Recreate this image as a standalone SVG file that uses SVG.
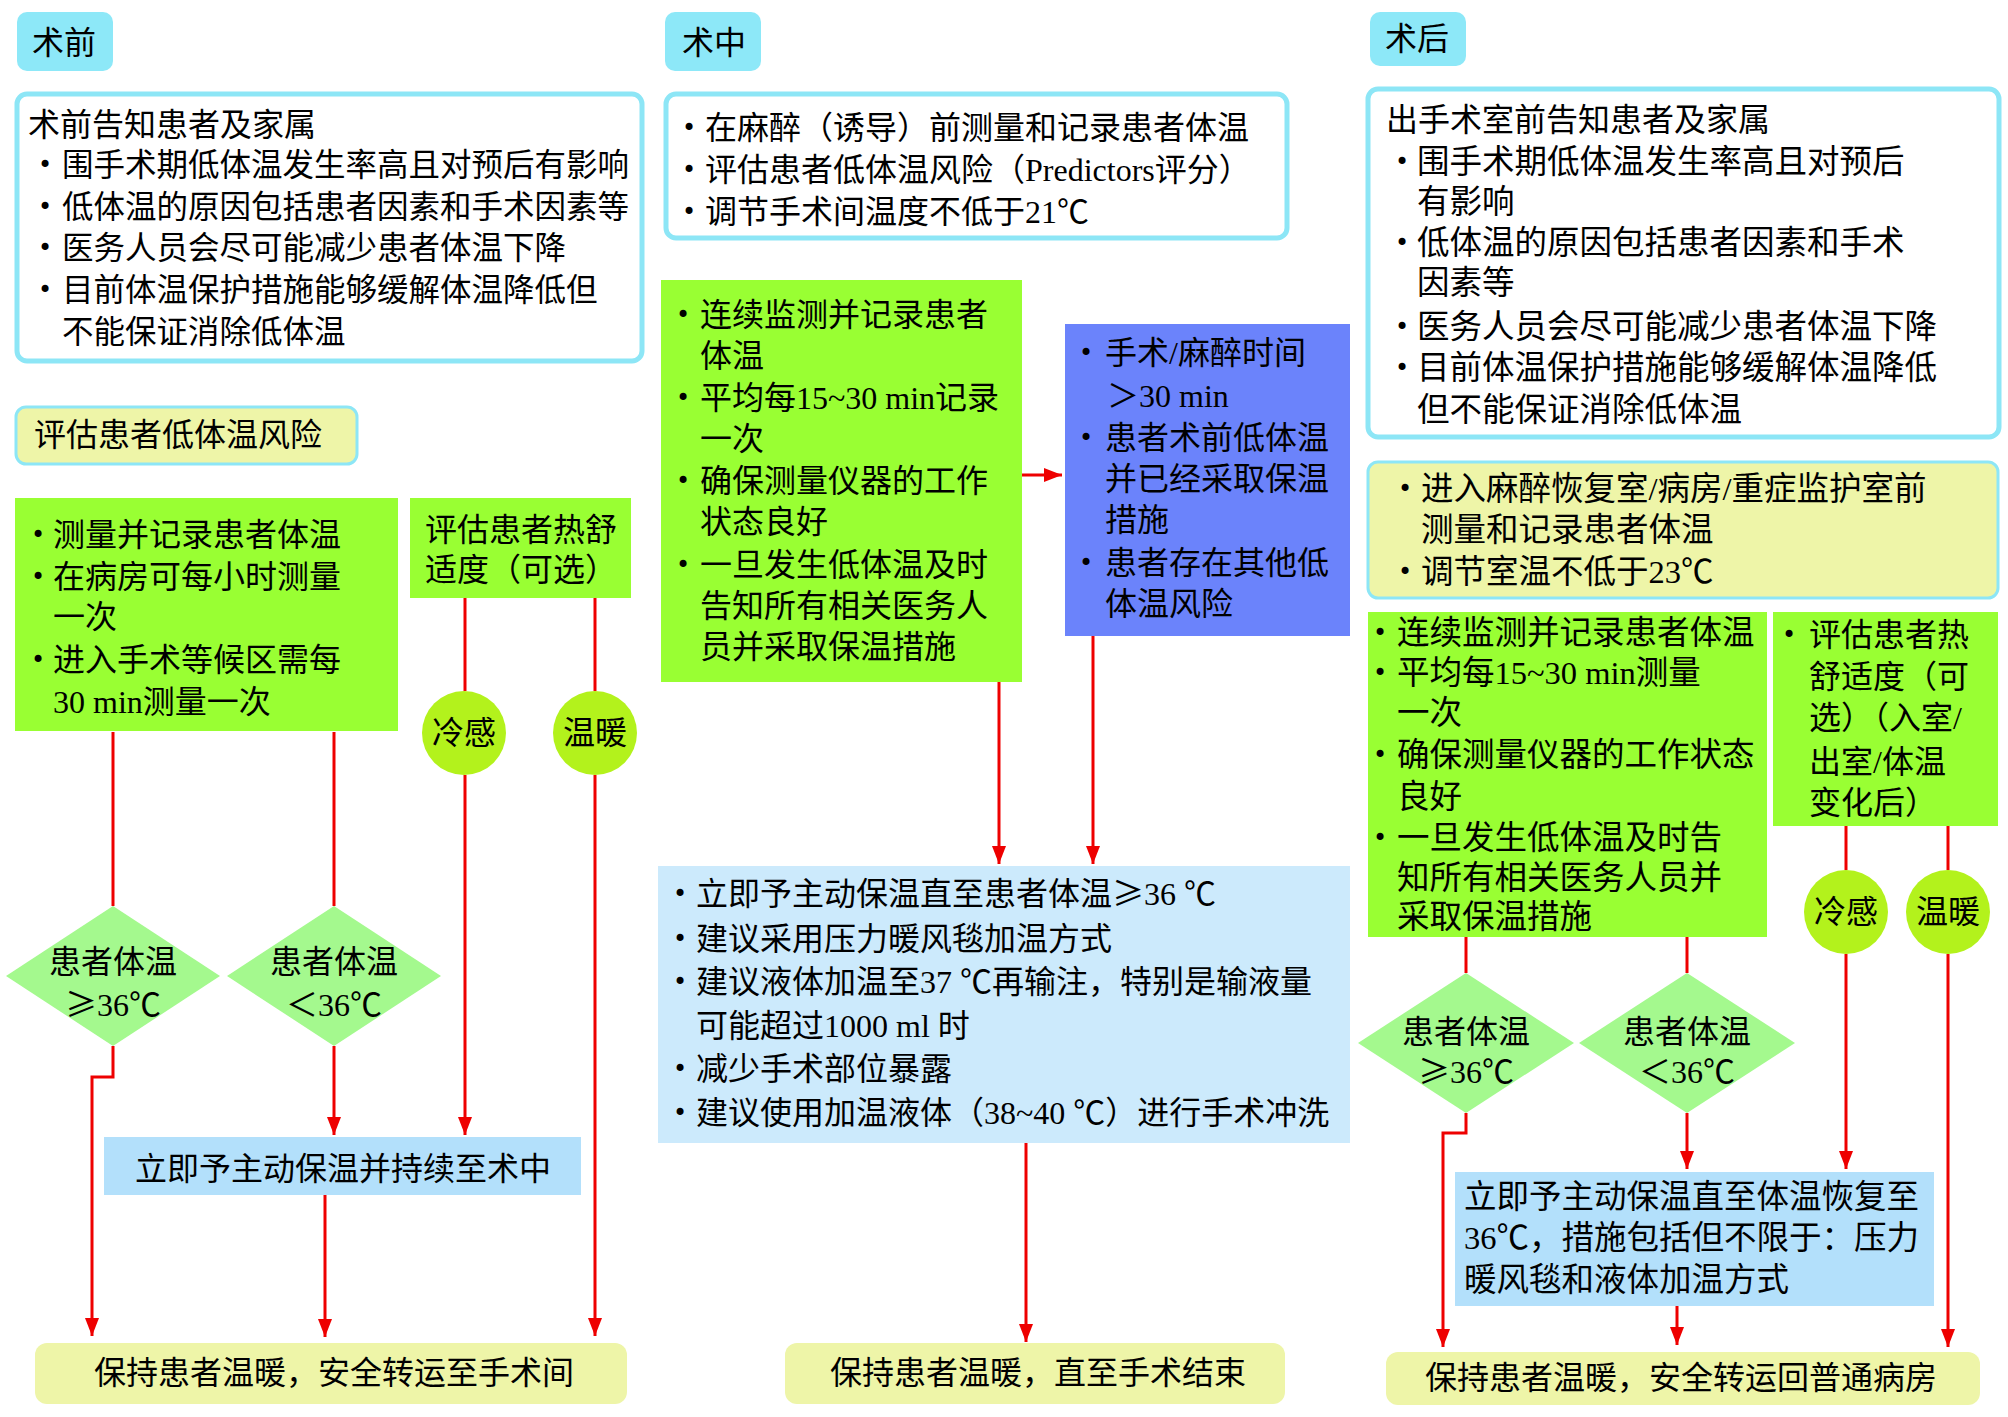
<svg xmlns="http://www.w3.org/2000/svg" width="2008" height="1417" viewBox="0 0 2008 1417">
<defs>
<style>
.t{font-family:"Liberation Serif","Noto Sans CJK SC",serif;font-size:32px;fill:#000}
.c{text-anchor:middle}
.g{font-family:"Noto Sans CJK SC",sans-serif}
.b{font-family:"DejaVu Sans",sans-serif;font-size:24px;fill:#000}
.lab{fill:#8de8f8}
.info{fill:#fff;stroke:#8de6f6;stroke-width:5}
.yel{fill:#eef5a8}
.yels{fill:#eef5a8;stroke:#8de6f6;stroke-width:3}
.grn{fill:#99ff33}
.dia{fill:#a4f98e}
.ell{fill:#b3f21c}
.blu{fill:#b3e0fb}
.lblu{fill:#cceafc}
.per{fill:#6b83fb}
.ln{fill:none;stroke:#ee0000;stroke-width:3}
</style>
<marker id="ah" markerUnits="userSpaceOnUse" markerWidth="18" markerHeight="14" refX="18" refY="7" orient="auto">
<path d="M0,0 L18,7 L0,14 z" fill="#ee0000"/>
</marker>
</defs>
<rect width="2008" height="1417" fill="#fff"/>

<!-- ===== Column 1: 术前 ===== -->
<g id="pre-label"><rect class="lab" x="17" y="12" width="96" height="59" rx="10"/><text class="t" x="32" y="54">术前</text></g>
<g id="pre-info">
<rect class="info" x="17" y="94" width="625" height="267" rx="10"/>
<text class="t" x="28" y="136">术前告知患者及家属</text>
<text class="b" x="38" y="173">•</text><text class="t" x="62" y="176" style="font-size:31.5px">围手术期低体温发生率高且对预后有影响</text>
<text class="b" x="38" y="215">•</text><text class="t" x="62" y="218" style="font-size:31.5px">低体温的原因包括患者因素和手术因素等</text>
<text class="b" x="38" y="256">•</text><text class="t" x="62" y="259" style="font-size:31.5px">医务人员会尽可能减少患者体温下降</text>
<text class="b" x="38" y="298">•</text><text class="t" x="62" y="301" style="font-size:31.5px">目前体温保护措施能够缓解体温降低但</text>
<text class="t" x="62" y="343" style="font-size:31.5px">不能保证消除低体温</text>
</g>
<g id="pre-assess"><rect class="yels" x="16" y="407" width="341" height="57" rx="10"/><text class="t" x="34" y="446">评估患者低体温风险</text></g>
<g id="pre-measure">
<rect class="grn" x="15" y="498" width="383" height="233"/>
<text class="b" x="31" y="543">•</text><text class="t" x="53" y="546">测量并记录患者体温</text>
<text class="b" x="31" y="585">•</text><text class="t" x="53" y="588">在病房可每小时测量</text>
<text class="t" x="53" y="628">一次</text>
<text class="b" x="31" y="668">•</text><text class="t" x="53" y="671">进入手术等候区需每</text>
<text class="t" x="53" y="713">30 min测量一次</text>
</g>
<g id="pre-comfort">
<rect class="grn" x="410" y="498" width="221" height="100"/>
<text class="t" x="425" y="541">评估患者热舒</text>
<text class="t" x="425" y="581">适度（可选）</text>
</g>
<g id="pre-cold"><circle class="ell" cx="464" cy="733" r="42"/><text class="t c" x="464" y="744">冷感</text></g>
<g id="pre-warm"><circle class="ell" cx="595" cy="733" r="42"/><text class="t c" x="595" y="744">温暖</text></g>
<g id="pre-ge36"><polygon class="dia" points="6,976 113,906 220,976 113,1046"/><text class="t c" x="113" y="973">患者体温</text><text class="t c" x="113" y="1016"><tspan class="g">≥</tspan>36℃</text></g>
<g id="pre-lt36"><polygon class="dia" points="227,976 334,906 441,976 334,1046"/><text class="t c" x="334" y="973">患者体温</text><text class="t c" x="334" y="1016">＜36℃</text></g>
<g id="pre-warmup"><rect class="blu" x="104" y="1137" width="477" height="58"/><text class="t c" x="343" y="1180">立即予主动保温并持续至术中</text></g>
<g id="pre-end"><rect class="yel" x="35" y="1343" width="592" height="61" rx="12"/><text class="t c" x="334" y="1384">保持患者温暖，安全转运至手术间</text></g>

<!-- ===== Column 2: 术中 ===== -->
<g id="intra-label"><rect class="lab" x="665" y="12" width="96" height="59" rx="10"/><text class="t" x="682" y="54">术中</text></g>
<g id="intra-info">
<rect class="info" x="666" y="94" width="621" height="144" rx="10"/>
<text class="b" x="682" y="136">•</text><text class="t" x="705" y="139">在麻醉（诱导）前测量和记录患者体温</text>
<text class="b" x="682" y="178">•</text><text class="t" x="705" y="181">评估患者低体温风险（Predictors评分）</text>
<text class="b" x="682" y="220">•</text><text class="t" x="705" y="223">调节手术间温度不低于21℃</text>
</g>
<g id="intra-monitor">
<rect class="grn" x="661" y="280" width="361" height="402"/>
<text class="b" x="676" y="323">•</text><text class="t" x="700" y="326">连续监测并记录患者</text>
<text class="t" x="700" y="367">体温</text>
<text class="b" x="676" y="406">•</text><text class="t" x="700" y="409">平均每15~30 min记录</text>
<text class="t" x="700" y="450">一次</text>
<text class="b" x="676" y="489">•</text><text class="t" x="700" y="492">确保测量仪器的工作</text>
<text class="t" x="700" y="533">状态良好</text>
<text class="b" x="676" y="573">•</text><text class="t" x="700" y="576">一旦发生低体温及时</text>
<text class="t" x="700" y="617">告知所有相关医务人</text>
<text class="t" x="700" y="658">员并采取保温措施</text>
</g>
<g id="intra-risk">
<rect class="per" x="1065" y="324" width="285" height="312"/>
<text class="b" x="1079" y="361">•</text><text class="t" x="1105" y="364">手术/麻醉时间</text>
<text class="t" x="1107" y="407">＞30 min</text>
<text class="b" x="1079" y="446">•</text><text class="t" x="1105" y="449">患者术前低体温</text>
<text class="t" x="1105" y="490">并已经采取保温</text>
<text class="t" x="1105" y="531">措施</text>
<text class="b" x="1079" y="571">•</text><text class="t" x="1105" y="574">患者存在其他低</text>
<text class="t" x="1105" y="615">体温风险</text>
</g>
<g id="intra-warm">
<rect class="lblu" x="658" y="866" width="692" height="277"/>
<text class="b" x="673" y="902">•</text><text class="t" x="696" y="905">立即予主动保温直至患者体温<tspan class="g">≥</tspan>36 ℃</text>
<text class="b" x="673" y="947">•</text><text class="t" x="696" y="950">建议采用压力暖风毯加温方式</text>
<text class="b" x="673" y="990">•</text><text class="t" x="696" y="993">建议液体加温至37 ℃再输注，特别是输液量</text>
<text class="t" x="696" y="1037">可能超过1000 ml 时</text>
<text class="b" x="673" y="1077">•</text><text class="t" x="696" y="1080">减少手术部位暴露</text>
<text class="b" x="673" y="1121">•</text><text class="t" x="696" y="1124">建议使用加温液体（38~40 ℃）进行手术冲洗</text>
</g>
<g id="intra-end"><rect class="yel" x="785" y="1343" width="500" height="61" rx="12"/><text class="t c" x="1038" y="1384">保持患者温暖，直至手术结束</text></g>

<!-- ===== Column 3: 术后 ===== -->
<g id="post-label"><rect class="lab" x="1370" y="12" width="96" height="54" rx="10"/><text class="t" x="1385" y="50">术后</text></g>
<g id="post-info">
<rect class="info" x="1368" y="89" width="631" height="348" rx="10"/>
<text class="t" x="1386" y="131">出手术室前告知患者及家属</text>
<text class="b" x="1395" y="170">•</text><text class="t" x="1417" y="173" style="font-size:32.5px">围手术期低体温发生率高且对预后</text>
<text class="t" x="1417" y="213" style="font-size:32.5px">有影响</text>
<text class="b" x="1395" y="251">•</text><text class="t" x="1417" y="254" style="font-size:32.5px">低体温的原因包括患者因素和手术</text>
<text class="t" x="1417" y="294" style="font-size:32.5px">因素等</text>
<text class="b" x="1395" y="335">•</text><text class="t" x="1417" y="338" style="font-size:32.5px">医务人员会尽可能减少患者体温下降</text>
<text class="b" x="1395" y="376">•</text><text class="t" x="1417" y="379" style="font-size:32.5px">目前体温保护措施能够缓解体温降低</text>
<text class="t" x="1417" y="421" style="font-size:32.5px">但不能保证消除低体温</text>
</g>
<g id="post-room">
<rect class="yels" x="1368" y="462" width="630" height="136" rx="10"/>
<text class="b" x="1398" y="497">•</text><text class="t" x="1421" y="500" style="font-size:32.5px">进入麻醉恢复室/病房/重症监护室前</text>
<text class="t" x="1421" y="541" style="font-size:32.5px">测量和记录患者体温</text>
<text class="b" x="1398" y="580">•</text><text class="t" x="1421" y="583" style="font-size:32.5px">调节室温不低于23℃</text>
</g>
<g id="post-monitor">
<rect class="grn" x="1368" y="612" width="399" height="325"/>
<text class="b" x="1373" y="641">•</text><text class="t" x="1397" y="644" style="font-size:32.5px">连续监测并记录患者体温</text>
<text class="b" x="1373" y="681">•</text><text class="t" x="1397" y="684" style="font-size:32.5px">平均每15~30 min测量</text>
<text class="t" x="1397" y="724" style="font-size:32.5px">一次</text>
<text class="b" x="1373" y="763">•</text><text class="t" x="1397" y="766" style="font-size:32.5px">确保测量仪器的工作状态</text>
<text class="t" x="1397" y="808" style="font-size:32.5px">良好</text>
<text class="b" x="1373" y="846">•</text><text class="t" x="1397" y="849" style="font-size:32.5px">一旦发生低体温及时告</text>
<text class="t" x="1397" y="889" style="font-size:32.5px">知所有相关医务人员并</text>
<text class="t" x="1397" y="928" style="font-size:32.5px">采取保温措施</text>
</g>
<g id="post-comfort">
<rect class="grn" x="1773" y="612" width="225" height="214"/>
<text class="b" x="1782" y="643">•</text><text class="t" x="1809" y="646">评估患者热</text>
<text class="t" x="1809" y="688">舒适度（可</text>
<text class="t" x="1809" y="729">选）（入室/</text>
<text class="t" x="1809" y="773">出室/体温</text>
<text class="t" x="1809" y="814">变化后）</text>
</g>
<g id="post-cold"><circle class="ell" cx="1846" cy="912" r="42"/><text class="t c" x="1846" y="923">冷感</text></g>
<g id="post-warm"><circle class="ell" cx="1948" cy="912" r="42"/><text class="t c" x="1948" y="923">温暖</text></g>
<g id="post-ge36"><polygon class="dia" points="1358,1043 1466,973 1574,1043 1466,1113"/><text class="t c" x="1466" y="1043">患者体温</text><text class="t c" x="1466" y="1083"><tspan class="g">≥</tspan>36℃</text></g>
<g id="post-lt36"><polygon class="dia" points="1579,1043 1687,973 1795,1043 1687,1113"/><text class="t c" x="1687" y="1043">患者体温</text><text class="t c" x="1687" y="1083">＜36℃</text></g>
<g id="post-warmup">
<rect class="blu" x="1455" y="1172" width="479" height="134"/>
<text class="t" x="1464" y="1208" style="font-size:32.5px">立即予主动保温直至体温恢复至</text>
<text class="t" x="1464" y="1249" style="font-size:32.5px">36℃，措施包括但不限于：压力</text>
<text class="t" x="1464" y="1291" style="font-size:32.5px">暖风毯和液体加温方式</text>
</g>
<g id="post-end"><rect class="yel" x="1386" y="1352" width="594" height="53" rx="12"/><text class="t c" x="1681" y="1389">保持患者温暖，安全转运回普通病房</text></g>

<!-- ===== Connectors ===== -->
<g id="connectors">
<path class="ln" d="M113,732 V906"/>
<path class="ln" d="M334,732 V906"/>
<path class="ln" d="M465,598 V691"/>
<path class="ln" d="M465,775 V1135" marker-end="url(#ah)"/>
<path class="ln" d="M595,598 V691"/>
<path class="ln" d="M595,775 V1336" marker-end="url(#ah)"/>
<path class="ln" d="M113,1046 V1077 H92 V1336" marker-end="url(#ah)"/>
<path class="ln" d="M334,1046 V1135" marker-end="url(#ah)"/>
<path class="ln" d="M325,1195 V1337" marker-end="url(#ah)"/>

<path class="ln" d="M1022,475 H1062" marker-end="url(#ah)"/>
<path class="ln" d="M999,682 V864" marker-end="url(#ah)"/>
<path class="ln" d="M1093,636 V864" marker-end="url(#ah)"/>
<path class="ln" d="M1026,1143 V1342" marker-end="url(#ah)"/>

<path class="ln" d="M1466,937 V973"/>
<path class="ln" d="M1687,937 V973"/>
<path class="ln" d="M1846,826 V870"/>
<path class="ln" d="M1948,826 V870"/>
<path class="ln" d="M1846,954 V1169" marker-end="url(#ah)"/>
<path class="ln" d="M1948,954 V1347" marker-end="url(#ah)"/>
<path class="ln" d="M1466,1113 V1133 H1443 V1347" marker-end="url(#ah)"/>
<path class="ln" d="M1687,1113 V1169" marker-end="url(#ah)"/>
<path class="ln" d="M1677,1306 V1345" marker-end="url(#ah)"/>
</g>
</svg>
